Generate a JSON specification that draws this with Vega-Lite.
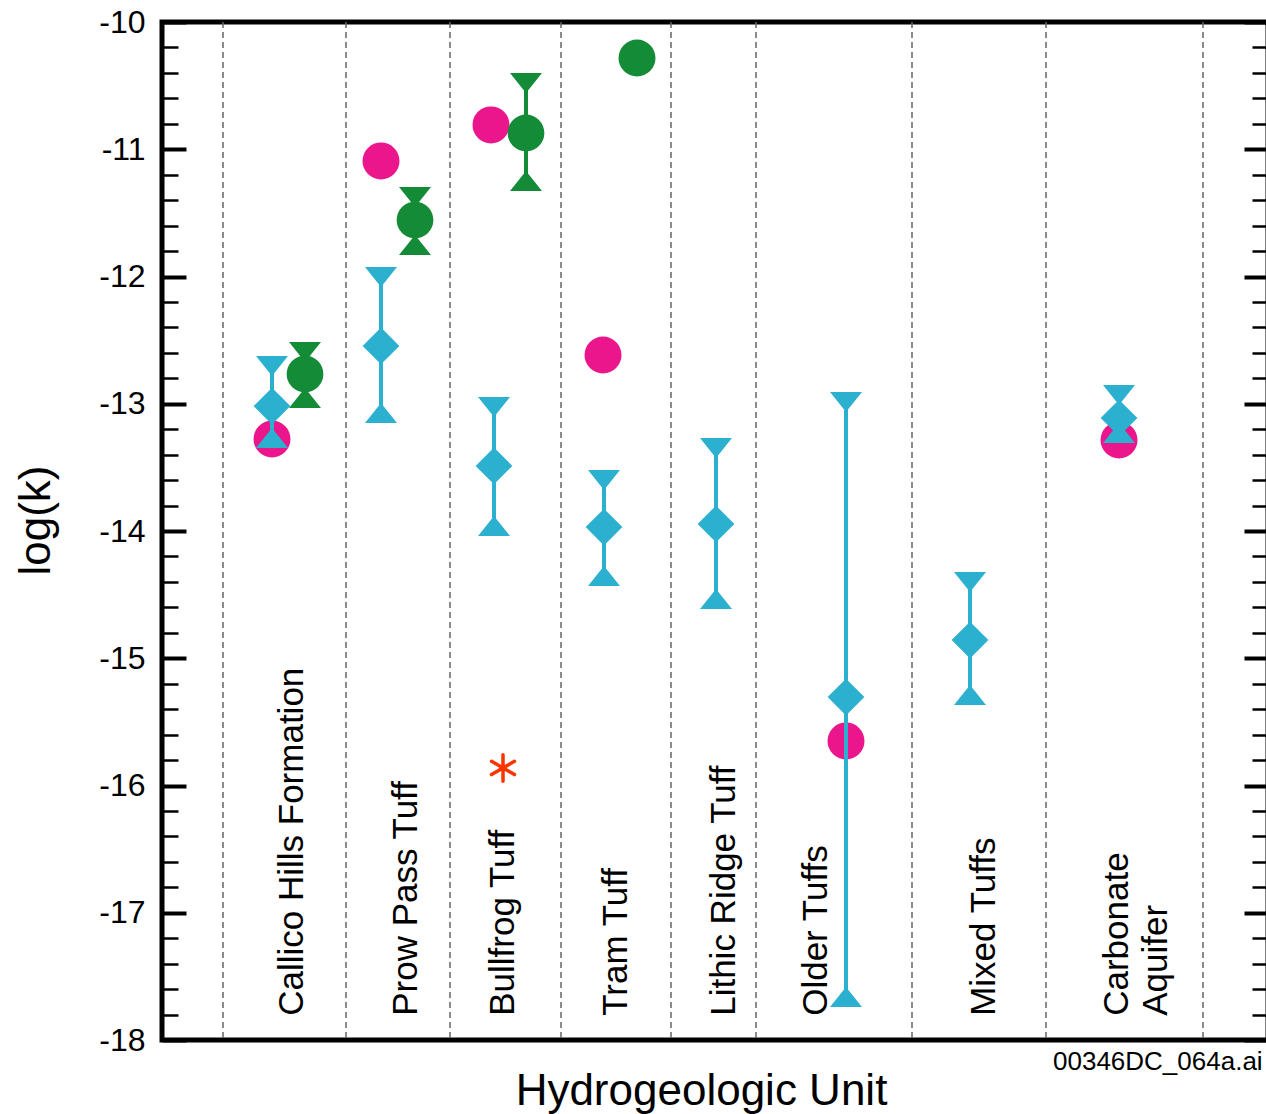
{
  "$schema": "https://vega.github.io/schema/vega-lite/v6.json",
  "width": 1106,
  "height": 1018,
  "autosize": {"type": "none"},
  "padding": {"left": 162, "top": 22, "right": 0, "bottom": 74},
  "background": "white",
  "config": {
    "view": {"stroke": "black", "strokeWidth": 5},
    "font": "Liberation Sans",
    "axis": {"grid": false}
  },
  "datasets": {
    "dividers": [
      {"x": 0.61}, {"x": 1.84}, {"x": 2.88}, {"x": 3.99}, {"x": 5.09},
      {"x": 5.94}, {"x": 7.50}, {"x": 8.84}, {"x": 10.41}
    ],
    "labels": [
      {"label": "Callico Hills Formation", "x": 1.41, "y": -17.81},
      {"label": "Prow Pass Tuff", "x": 2.55, "y": -17.81},
      {"label": "Bullfrog Tuff", "x": 3.52, "y": -17.81},
      {"label": "Tram Tuff", "x": 4.65, "y": -17.81},
      {"label": "Lithic Ridge Tuff", "x": 5.73, "y": -17.81},
      {"label": "Older Tuffs", "x": 6.65, "y": -17.81},
      {"label": "Mixed Tuffs", "x": 8.33, "y": -17.81},
      {"label": "Carbonate", "x": 9.66, "y": -17.81},
      {"label": "Aquifer", "x": 10.05, "y": -17.81}
    ],
    "note": [
      {"text": "00346DC_064a.ai", "x": 8.91, "y": -18.173}
    ],
    "singles": [
      {"unit": "Callico Hills Formation", "series": "magenta", "x": 1.10, "value": -13.277},
      {"unit": "Prow Pass Tuff", "series": "magenta", "x": 2.19, "value": -11.092},
      {"unit": "Bullfrog Tuff", "series": "magenta", "x": 3.29, "value": -10.809},
      {"unit": "Tram Tuff", "series": "magenta", "x": 4.41, "value": -12.617},
      {"unit": "Older Tuffs", "series": "magenta", "x": 6.84, "value": -15.650},
      {"unit": "Carbonate Aquifer", "series": "magenta", "x": 9.57, "value": -13.285},
      {"unit": "Tram Tuff", "series": "green", "x": 4.75, "value": -10.283}
    ],
    "ranges": [
      {"unit": "Callico Hills Formation", "series": "cyan", "x": 1.10, "mid": -13.018, "hi": -12.625, "lo": -13.348},
      {"unit": "Callico Hills Formation", "series": "green", "x": 1.43, "mid": -12.766, "hi": -12.515, "lo": -13.033},
      {"unit": "Prow Pass Tuff", "series": "cyan", "x": 2.19, "mid": -12.546, "hi": -11.925, "lo": -13.151},
      {"unit": "Prow Pass Tuff", "series": "green", "x": 2.53, "mid": -11.556, "hi": -11.297, "lo": -11.831},
      {"unit": "Bullfrog Tuff", "series": "cyan", "x": 3.32, "mid": -13.489, "hi": -12.947, "lo": -14.039},
      {"unit": "Bullfrog Tuff", "series": "green", "x": 3.64, "mid": -10.872, "hi": -10.401, "lo": -11.328},
      {"unit": "Tram Tuff", "series": "cyan", "x": 4.42, "mid": -13.969, "hi": -13.521, "lo": -14.432},
      {"unit": "Lithic Ridge Tuff", "series": "cyan", "x": 5.54, "mid": -13.945, "hi": -13.269, "lo": -14.613},
      {"unit": "Older Tuffs", "series": "cyan", "x": 6.84, "mid": -15.305, "hi": -12.908, "lo": -17.741},
      {"unit": "Mixed Tuffs", "series": "cyan", "x": 8.08, "mid": -14.857, "hi": -14.322, "lo": -15.367},
      {"unit": "Carbonate Aquifer", "series": "cyan", "x": 9.57, "mid": -13.112, "hi": -12.853, "lo": -13.308}
    ],
    "star": [
      {"unit": "Bullfrog Tuff", "x": 3.41, "value": -15.862}
    ]
  },
  "encoding": {
    "x": {
      "field": "x", "type": "quantitative",
      "scale": {"domain": [0, 11.06], "nice": false, "zero": false},
      "axis": {
        "title": "Hydrogeologic Unit", "labels": false,
        "ticks": true, "tickSize": 1, "tickWidth": 1, "tickColor": "black", "values": [0.61],
        "domain": false,
        "titleFontSize": 44, "titleFontWeight": "normal", "titleColor": "black",
        "titleFont": "Liberation Sans", "titlePadding": 28, "titleX": 539
      }
    }
  },
  "layer": [
    {
      "data": {"name": "dividers"},
      "mark": {"type": "rule", "color": "#666666", "strokeWidth": 1.5, "strokeDash": [6, 4]}
    },
    {
      "data": {"name": "labels"},
      "mark": {"type": "text", "angle": 270, "align": "left", "baseline": "alphabetic", "fontSize": 35, "font": "Liberation Sans", "color": "black"},
      "encoding": {
        "y": {"field": "y", "type": "quantitative", "scale": {"domain": [-18, -10], "nice": false, "zero": false}, "axis": null},
        "text": {"field": "label"}
      }
    },
    {
      "data": {"name": "note"},
      "mark": {"type": "text", "align": "left", "baseline": "middle", "fontSize": 26, "font": "Liberation Sans", "color": "black"},
      "encoding": {
        "y": {"field": "y", "type": "quantitative", "scale": {"domain": [-18, -10], "nice": false, "zero": false}, "axis": null},
        "text": {"field": "text"}
      }
    },
    {
      "data": {"name": "singles"},
      "transform": [{"filter": "datum.series === 'magenta'"}],
      "mark": {"type": "point", "shape": "circle", "filled": true, "opacity": 1, "size": 1369, "strokeWidth": 0},
      "encoding": {
        "y": {
          "field": "value", "type": "quantitative",
          "scale": {"domain": [-18, -10], "nice": false, "zero": false},
          "axis": {
            "orient": "left", "title": null, "labels": false, "domain": false,
            "values": [-10.2, -10.4, -10.6, -10.8, -11.2, -11.4, -11.6, -11.8, -12.2, -12.4, -12.6, -12.8, -13.2, -13.4, -13.6, -13.8, -14.2, -14.4, -14.6, -14.8, -15.2, -15.4, -15.6, -15.8, -16.2, -16.4, -16.6, -16.8, -17.2, -17.4, -17.6, -17.8],
            "tickSize": -16, "tickWidth": 2.5, "tickColor": "black"
          }
        },
        "color": {"field": "series", "type": "nominal", "scale": {"domain": ["magenta", "green", "cyan"], "range": ["#EC168C", "#148C37", "#2BB0CF"]}, "legend": null}
      }
    },
    {
      "data": {"name": "ranges"},
      "mark": {"type": "rule", "strokeWidth": 4},
      "encoding": {
        "y": {
          "field": "lo", "type": "quantitative",
          "scale": {"domain": [-18, -10], "nice": false, "zero": false},
          "axis": {
            "orient": "left", "title": "log(k)", "domain": false,
            "values": [-10, -11, -12, -13, -14, -15, -16, -17, -18],
            "labelExpr": "'-' + format(abs(datum.value), 'd')",
            "tickSize": -24, "tickWidth": 4, "tickColor": "black",
            "labelFontSize": 32, "labelColor": "black", "labelFont": "Liberation Sans",
            "labelPadding": 41, "labelFlush": false, "labelOverlap": false,
            "titleFontSize": 44, "titleFontWeight": "normal", "titleColor": "black",
            "titleFont": "Liberation Sans", "titlePadding": 40, "titleY": 498
          }
        },
        "y2": {"field": "hi"},
        "color": {"field": "series", "type": "nominal", "scale": {"domain": ["magenta", "green", "cyan"], "range": ["#EC168C", "#148C37", "#2BB0CF"]}, "legend": null}
      }
    },
    {
      "data": {"name": "ranges"},
      "mark": {"type": "point", "shape": "M-1,0L1,0L0,1.25Z", "filled": true, "opacity": 1, "size": 1024, "strokeWidth": 0},
      "encoding": {
        "y": {
          "field": "hi", "type": "quantitative",
          "scale": {"domain": [-18, -10], "nice": false, "zero": false},
          "axis": {
            "orient": "right", "title": null, "labels": false, "domain": false,
            "values": [-10, -11, -12, -13, -14, -15, -16, -17, -18],
            "tickSize": -24, "tickWidth": 4, "tickColor": "black"
          }
        },
        "color": {"field": "series", "type": "nominal", "scale": {"domain": ["magenta", "green", "cyan"], "range": ["#EC168C", "#148C37", "#2BB0CF"]}, "legend": null}
      }
    },
    {
      "data": {"name": "ranges"},
      "mark": {"type": "point", "shape": "M-1,0L1,0L0,-1.25Z", "filled": true, "opacity": 1, "size": 1024, "strokeWidth": 0},
      "encoding": {
        "y": {
          "field": "lo", "type": "quantitative",
          "scale": {"domain": [-18, -10], "nice": false, "zero": false},
          "axis": {
            "orient": "right", "title": null, "labels": false, "domain": false,
            "values": [-10.2, -10.4, -10.6, -10.8, -11.2, -11.4, -11.6, -11.8, -12.2, -12.4, -12.6, -12.8, -13.2, -13.4, -13.6, -13.8, -14.2, -14.4, -14.6, -14.8, -15.2, -15.4, -15.6, -15.8, -16.2, -16.4, -16.6, -16.8, -17.2, -17.4, -17.6, -17.8],
            "tickSize": -16, "tickWidth": 2.5, "tickColor": "black"
          }
        },
        "color": {"field": "series", "type": "nominal", "scale": {"domain": ["magenta", "green", "cyan"], "range": ["#EC168C", "#148C37", "#2BB0CF"]}, "legend": null}
      }
    },
    {
      "data": {"name": "ranges"},
      "mark": {"type": "point", "filled": true, "opacity": 1, "size": 1350, "strokeWidth": 0},
      "encoding": {
        "y": {"field": "mid", "type": "quantitative", "scale": {"domain": [-18, -10], "nice": false, "zero": false}, "axis": null},
        "shape": {"field": "series", "type": "nominal", "scale": {"domain": ["cyan", "green"], "range": ["diamond", "circle"]}, "legend": null},
        "color": {"field": "series", "type": "nominal", "scale": {"domain": ["magenta", "green", "cyan"], "range": ["#EC168C", "#148C37", "#2BB0CF"]}, "legend": null}
      }
    },
    {
      "data": {"name": "singles"},
      "transform": [{"filter": "datum.series === 'green'"}],
      "mark": {"type": "point", "shape": "circle", "filled": true, "opacity": 1, "size": 1369, "strokeWidth": 0},
      "encoding": {
        "y": {"field": "value", "type": "quantitative", "scale": {"domain": [-18, -10], "nice": false, "zero": false}, "axis": null},
        "color": {"field": "series", "type": "nominal", "scale": {"domain": ["magenta", "green", "cyan"], "range": ["#EC168C", "#148C37", "#2BB0CF"]}, "legend": null}
      }
    },
    {
      "data": {"name": "star"},
      "mark": {"type": "point", "shape": "M0,-1L0,1M-0.866,-0.5L0.866,0.5M-0.866,0.5L0.866,-0.5", "filled": false, "opacity": 1, "size": 700, "stroke": "#FF3300", "strokeWidth": 3.5, "strokeCap": "round"},
      "encoding": {
        "y": {"field": "value", "type": "quantitative", "scale": {"domain": [-18, -10], "nice": false, "zero": false}, "axis": null}
      }
    }
  ],
  "resolve": {"axis": {"y": "independent"}}
}
